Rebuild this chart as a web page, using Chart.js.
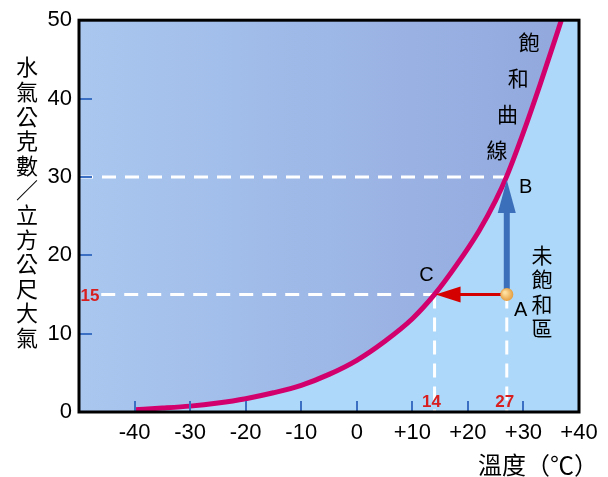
<!DOCTYPE html>
<html>
<head>
<meta charset="utf-8">
<script src="https://cdn.jsdelivr.net/npm/chart.js@4.4.0/dist/chart.umd.min.js"></script>
<style>
  html, body { margin: 0; padding: 0; background: #fff; }
  canvas { display: block; }
</style>
</head>
<body>
<canvas id="chart" width="608" height="477"></canvas>
<script>
// saturation curve (temperature °C -> grams of vapour per m³)
const temps  = [-40, -35, -30, -25, -20, -15, -10, -5, 0, 5, 10, 14, 18, 22, 25, 27, 30, 33, 36, 38, 40];
const vapour = [0.3, 0.5, 0.75, 1.15, 1.7, 2.45, 3.4, 4.8, 6.6, 9.0, 11.9, 15.0, 18.8, 23.1, 27.0, 30.1, 35.7, 41.8, 48.2, 52.6, 57];

const xTickValues = [-40, -30, -20, -10, 0, 10, 20, 30, 40];
const xTickLabels = ['-40', '-30', '-20', '-10', '0', '+10', '+20', '+30', '+40'];
const yTickValues = [0, 10, 20, 30, 40, 50];

// the three marked states
const pointA = { x: 27, y: 15 };
const pointB = { x: 27, y: 30 };
const pointC = { x: 14, y: 15 };

const yTitle = '水氣公克數／立方公尺大氣';
const xTitle = '溫度（℃）';
const curveLabel = '飽和曲線';
const unsatLabel = '未飽和區';

const cjk = '"Noto Sans CJK TC", "Noto Sans CJK SC", sans-serif';
const narrow = '"Liberation Sans Narrow", "Liberation Sans", Arial, sans-serif';

const dash = [14, 9];
function guide(points) {
  return {
    data: points,
    borderColor: '#ffffff',
    borderWidth: 3,
    borderDash: dash,
    pointRadius: 0,
    fill: false,
    order: 2
  };
}

const decor = {
  id: 'decor',
  beforeDraw(chart) {
    const { ctx, chartArea: a } = chart;
    const g = ctx.createLinearGradient(a.left, 0, a.right, 0);
    g.addColorStop(0, '#a9c7ef');
    g.addColorStop(1, '#91a7dd');
    ctx.save();
    ctx.fillStyle = g;
    ctx.fillRect(a.left, a.top, a.right - a.left, a.bottom - a.top);
    ctx.restore();
  },
  afterDatasetsDraw(chart) {
    const { ctx, chartArea: a, scales: { x, y } } = chart;
    ctx.save();

    // blue tick marks inside the plot
    ctx.strokeStyle = '#3b6fc4';
    ctx.lineWidth = 2;
    ctx.beginPath();
    xTickValues.slice(0, -1).forEach(v => {
      const px = Math.round(x.getPixelForValue(v));
      ctx.moveTo(px, a.bottom);
      ctx.lineTo(px, a.bottom - 11);
    });
    yTickValues.slice(1, -1).forEach(v => {
      const py = Math.round(y.getPixelForValue(v));
      ctx.moveTo(a.left, py);
      ctx.lineTo(a.left + 13, py);
    });
    ctx.stroke();

    const ax = x.getPixelForValue(pointA.x), ay = y.getPixelForValue(pointA.y);
    const by = y.getPixelForValue(pointB.y);
    const cx = x.getPixelForValue(pointC.x);

    // red arrow A -> C
    ctx.strokeStyle = '#d40000';
    ctx.fillStyle = '#d40000';
    ctx.lineWidth = 3;
    ctx.beginPath();
    ctx.moveTo(ax, ay);
    ctx.lineTo(cx + 24, ay);
    ctx.stroke();
    ctx.beginPath();
    ctx.moveTo(cx + 1, ay);
    ctx.lineTo(cx + 26, ay - 8);
    ctx.lineTo(cx + 26, ay + 8);
    ctx.closePath();
    ctx.fill();

    // blue arrow A -> B
    ctx.strokeStyle = '#3c6fba';
    ctx.fillStyle = '#3c6fba';
    ctx.lineWidth = 6;
    ctx.beginPath();
    ctx.moveTo(ax, ay);
    ctx.lineTo(ax, by + 34);
    ctx.stroke();
    ctx.beginPath();
    ctx.moveTo(ax, by + 3);
    ctx.lineTo(ax - 9, by + 36);
    ctx.lineTo(ax + 9, by + 36);
    ctx.closePath();
    ctx.fill();

    // point A
    const rg = ctx.createRadialGradient(ax - 2, ay - 2, 1, ax, ay, 7);
    rg.addColorStop(0, '#ffe0a0');
    rg.addColorStop(1, '#e39a3a');
    ctx.fillStyle = rg;
    ctx.beginPath();
    ctx.arc(ax, ay, 6.5, 0, Math.PI * 2);
    ctx.fill();

    // plot frame
    ctx.strokeStyle = '#000';
    ctx.lineWidth = 3;
    ctx.strokeRect(a.left, a.top, a.right - a.left, a.bottom - a.top);

    // red values on the axes
    ctx.fillStyle = '#d81e1e';
    ctx.font = 'bold 17px ' + narrow;
    ctx.textAlign = 'center';
    ctx.textBaseline = 'middle';
    ctx.fillText('15', a.left + 11, ay + 2);
    ctx.fillText('14', cx - 3, a.bottom - 10);
    ctx.fillText('27', ax - 2, a.bottom - 10);

    // point letters
    ctx.fillStyle = '#000';
    ctx.font = '20px "Liberation Sans", Arial, sans-serif';
    ctx.fillText('A', ax + 14, ay + 16);
    ctx.fillText('B', ax + 19, by + 11);
    ctx.fillText('C', cx - 8, ay - 19);

    // vertical Chinese labels
    ctx.font = '21px ' + cjk;
    [...curveLabel].forEach((ch, i) => {
      ctx.fillText(ch, 529 - i * 10.7, 42 + i * 36);
    });
    [...unsatLabel].forEach((ch, i) => {
      ctx.fillText(ch, 542, 255 + i * 24.5);
    });

    ctx.font = '22px ' + cjk;
    [...yTitle].forEach((ch, i) => {
      ctx.fillText(ch, 27, 67 + i * 24.6);
    });

    ctx.font = '24px ' + cjk;
    ctx.textAlign = 'left';
    ctx.fillText(xTitle, 478, 465);

    ctx.restore();
  }
};

new Chart(document.getElementById('chart'), {
  type: 'line',
  data: {
    datasets: [
      {
        data: temps.map((t, i) => ({ x: t, y: vapour[i] })),
        borderColor: '#d2006c',
        borderWidth: 5,
        backgroundColor: '#aed8f9',
        fill: 'origin',
        pointRadius: 0,
        cubicInterpolationMode: 'monotone',
        order: 1
      },
      guide([{ x: -46, y: pointC.y }, pointC]),
      guide([{ x: -50, y: pointB.y }, pointB]),
      guide([pointC, { x: pointC.x, y: 0 }]),
      guide([pointA, { x: pointA.x, y: 0 }])
    ]
  },
  options: {
    responsive: false,
    animation: false,
    layout: { padding: { left: 0, top: 13, right: 29, bottom: 0 } },
    plugins: {
      legend: { display: false },
      tooltip: { enabled: false },
      filler: { drawTime: 'beforeDatasetsDraw' }
    },
    scales: {
      x: {
        type: 'linear',
        min: -50,
        max: 40,
        afterBuildTicks: s => { s.ticks = xTickValues.map(v => ({ value: v })); },
        afterFit: s => { s.height = 65; },
        grid: { display: false, drawTicks: false },
        border: { display: false },
        ticks: {
          autoSkip: false,
          maxRotation: 0,
          padding: 8,
          color: '#000',
          font: { family: narrow, size: 22 },
          callback: v => xTickLabels[xTickValues.indexOf(v)]
        }
      },
      y: {
        min: 0,
        max: 50,
        afterBuildTicks: s => { s.ticks = yTickValues.map(v => ({ value: v })); },
        afterFit: s => { s.width = 79; },
        grid: { display: false, drawTicks: false },
        border: { display: false },
        ticks: {
          padding: 7,
          color: '#000',
          font: { family: narrow, size: 22 }
        }
      }
    }
  },
  plugins: [decor]
});
</script>
</body>
</html>
